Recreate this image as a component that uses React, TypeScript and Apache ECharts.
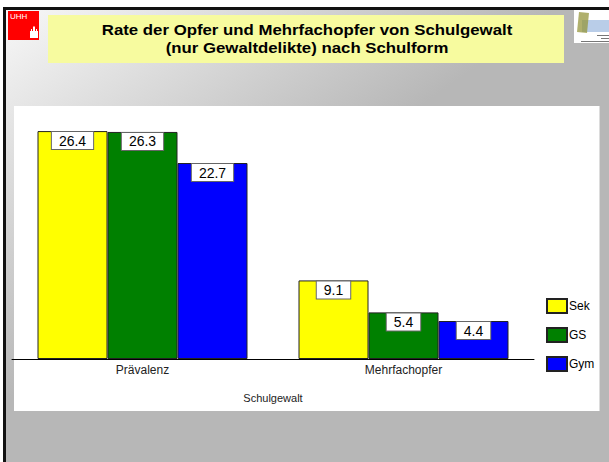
import React, { useEffect, useRef } from "react";
import * as echarts from "echarts";

const categories = ["Prävalenz", "Mehrfachopfer"];
const seriesNames = ["Sek", "GS", "Gym"];
const sekValues = [26.4, 9.1];
const gsValues = [26.3, 5.4];
const gymValues = [22.7, 4.4];
const seriesColors = ["#ffff00", "#008000", "#0000ff"];
const titleText = "Rate der Opfer und Mehrfachopfer von Schulgewalt\n(nur Gewaltdelikte) nach Schulform";
const axisName = "Schulgewalt";

const FONT = "'Liberation Sans', Arial, Helvetica, sans-serif";

export default function App() {
  const ref = useRef<HTMLDivElement>(null);

  useEffect(() => {
    if (!ref.current) return;
    const chart = echarts.init(ref.current, undefined, { renderer: "svg" });
    const valueSets = [sekValues, gsValues, gymValues];

    const option: any = {
      animation: false,
      backgroundColor: "#ffffff",
      textStyle: { fontFamily: FONT },
      legend: {
        data: seriesNames,
        orient: "vertical",
        left: 541,
        top: 293,
        itemWidth: 20,
        itemHeight: 14,
        itemGap: 13,
        icon: "rect",
        textStyle: { fontFamily: FONT, fontSize: 12, color: "#000", padding: [0, 0, 0, -3] },
      },
      grid: { left: 12, width: 522, top: 100, bottom: 103, containLabel: false },
      xAxis: {
        type: "category",
        data: categories,
        axisLine: { lineStyle: { color: "#000", width: 1 } },
        axisTick: { show: false },
        axisLabel: { fontFamily: FONT, fontSize: 12, color: "#222", margin: 5 },
        name: axisName,
        nameLocation: "middle",
        nameGap: 33,
        nameTextStyle: { fontFamily: FONT, fontSize: 11, color: "#222" },
      },
      yAxis: {
        type: "value",
        min: 0,
        max: 30,
        show: false,
        splitLine: { show: false },
      },
      series: seriesNames.map((name, i) => ({
        name,
        type: "bar",
        data: valueSets[i],
        barWidth: 70,
        barGap: "0%",
        itemStyle: { color: seriesColors[i], borderColor: "#222", borderWidth: 1 },
        label: {
          show: true,
          position: "insideTop",
          distance: 1,
          formatter: (p: any) => Number(p.value).toFixed(1),
          fontFamily: FONT,
          fontSize: 14,
          lineHeight: 15,
          color: "#000",
          backgroundColor: "#fff",
          borderColor: "#666",
          borderWidth: 1,
          padding: [1, 7, 1, 7],
        },
      })),
      graphic: [
        {
          type: "rect",
          silent: true,
          z: -10,
          shape: { x: 5, y: 9, width: 604, height: 453 },
          style: {
            fill: new echarts.graphic.LinearGradient(
              5, 9, 191, 270,
              [
                { offset: 0, color: "#f8f8f8" },
                { offset: 1, color: "#b7b7b7" },
              ],
              true
            ),
          },
        },
        { type: "rect", silent: true, z: -9, shape: { x: 3, y: 7, width: 606, height: 3 }, style: { fill: "#111" } },
        { type: "rect", silent: true, z: -9, shape: { x: 3, y: 7, width: 3, height: 455 }, style: { fill: "#111" } },
        { type: "rect", silent: true, z: -9, shape: { x: 14, y: 106, width: 585, height: 305 }, style: { fill: "#ffffff" } },
        { type: "rect", silent: true, z: -9, shape: { x: 599, y: 106, width: 1, height: 305 }, style: { fill: "#dcdcdc" } },
        { type: "rect", silent: true, z: -9, shape: { x: 48, y: 15, width: 516, height: 48 }, style: { fill: "#f7fb9f" } },
        {
          type: "text",
          silent: true,
          z: 5,
          x: 307,
          y: 21,
          scaleX: 1.2,
          style: {
            text: titleText,
            textAlign: "center",
            textVerticalAlign: "top",
            verticalAlign: "top",
            fontFamily: FONT,
            fontSize: 14,
            fontWeight: "bold",
            lineHeight: 18,
            fill: "#000",
          },
        },
        // UHH logo
        { type: "rect", silent: true, z: -8, shape: { x: 8, y: 11, width: 31, height: 29 }, style: { fill: "#ff0000" } },
        { type: "text", silent: true, z: -7, style: { text: "UHH", x: 10, y: 12, fontSize: 8, fontFamily: FONT, fill: "#fff" } },
        {
          type: "polygon",
          silent: true,
          z: -7,
          shape: {
            points: [
              [30, 38], [30, 31], [31, 31], [31, 29], [32, 29], [32, 31], [33, 31], [33, 27],
              [34, 26], [35, 27], [35, 31], [36, 31], [36, 29], [37, 29], [37, 31], [38, 31], [38, 38],
            ],
          },
          style: { fill: "#fff" },
        },
        // right logo
        { type: "rect", silent: true, z: -8, shape: { x: 574, y: 10, width: 35, height: 33 }, style: { fill: "#ffffff" } },
        { type: "rect", silent: true, z: -7, shape: { x: 582, y: 20, width: 27, height: 12 }, style: { fill: "#b9cde8" } },
        {
          type: "polygon",
          silent: true,
          z: -6,
          shape: { points: [[579, 12], [589, 13], [587, 33], [577, 32]] },
          style: { fill: "rgba(150,150,60,0.75)" },
        },
        { type: "rect", silent: true, z: -7, shape: { x: 597, y: 35, width: 12, height: 1 }, style: { fill: "#777" } },
        { type: "rect", silent: true, z: -7, shape: { x: 601, y: 38, width: 8, height: 1 }, style: { fill: "#777" } },
        { type: "rect", silent: true, z: -7, shape: { x: 581, y: 41, width: 28, height: 1 }, style: { fill: "#777" } },
      ],
    };

    chart.setOption(option);
    return () => chart.dispose();
  }, []);

  return (
    <div
      ref={ref}
      style={{ position: "fixed", left: 0, top: 0, width: 609, height: 462 }}
    />
  );
}
